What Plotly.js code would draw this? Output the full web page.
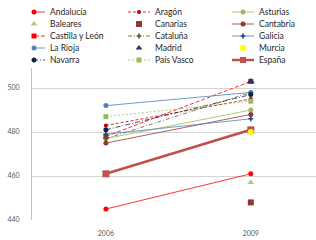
<!DOCTYPE html>
<html>
<head>
<meta charset="utf-8">
<script src="https://cdn.plot.ly/plotly-3.0.1.min.js"></script>
<style>html,body{margin:0;padding:0;background:#fff;}#chart{width:316px;height:240px;}</style>
</head>
<body>
<div id="chart"></div>
<script>
// ---- data ----
var years = ['2006', '2009'];
var regions = ['Andalucía', 'Aragón', 'Asturias', 'Baleares', 'Canarias', 'Cantabria',
  'Castilla y León', 'Cataluña', 'Galicia', 'La Rioja', 'Madrid', 'Murcia',
  'Navarra', 'País Vasco', 'España'];
var andalucia = [445, 461];
var aragon = [483, 495];
var asturias = [477, 490];
var baleares = [null, 457];
var canarias = [null, 448];
var cantabria = [475, 488];
var castillaLeon = [478, 503];
var cataluna = [477, 498];
var galicia = [479, 486];
var laRioja = [492, 498];
var madrid = [null, 503];
var murcia = [null, 480];
var navarra = [481, 497];
var paisVasco = [487, 494];
var espana = [461, 481];
var yTicks = [440, 460, 480, 500];

var seriesValues = [andalucia, aragon, asturias, baleares, canarias, cantabria,
  castillaLeon, cataluna, galicia, laRioja, madrid, murcia, navarra, paisVasco, espana];

// ---- styles ----
var styles = [
  {lc: '#FF0000', dash: 'solid', w: 0.8, sym: 'circle', ms: 5, mc: '#FF0000', line: true},
  {lc: '#C00000', dash: '3px,2px', w: 0.8, sym: 'circle', ms: 4, mc: '#C00000', line: true},
  {lc: '#9BBB59', dash: 'solid', w: 0.8, sym: 'circle', ms: 5, mc: '#9BBB59', line: true},
  {lc: '#C4BD97', dash: 'solid', w: 0.8, sym: 'triangle-up', ms: 6, mc: '#C4BD97', line: false},
  {lc: '#953735', dash: 'solid', w: 0.8, sym: 'square', ms: 6, mc: '#953735', line: false},
  {lc: '#953735', dash: 'solid', w: 0.8, sym: 'circle', ms: 5, mc: '#953735', line: true},
  {lc: '#FF0000', dash: '4px,2px', w: 0.8, sym: 'square', ms: 5, mc: '#FF0000', line: true},
  {lc: '#4F6228', dash: '4px,2px,1px,2px', w: 0.8, sym: 'cross', ms: 4, mc: '#4F6228', line: true},
  {lc: '#4F81BD', dash: 'solid', w: 0.8, sym: 'cross', ms: 4, mc: '#1F497D', line: true},
  {lc: '#4F81BD', dash: 'solid', w: 0.8, sym: 'circle', ms: 5, mc: '#4F81BD', line: true},
  {lc: '#1F3864', dash: 'solid', w: 0.8, sym: 'triangle-up', ms: 7, mc: '#1F3864', line: false},
  {lc: '#FFFF00', dash: 'solid', w: 0.8, sym: 'circle', ms: 6, mc: '#FFFF00', line: false},
  {lc: '#0F243E', dash: '5px,2px,1px,2px', w: 0.8, sym: 'circle', ms: 5, mc: '#0F243E', line: true},
  {lc: '#9BBB59', dash: '2px,2px', w: 0.8, sym: 'square', ms: 5, mc: '#9BBB59', line: true},
  {lc: '#C0504D', dash: 'solid', w: 2.5, sym: 'square', ms: 7, mc: '#C0504D', line: true}
];

// drawing order (Murcia drawn last, on top of España)
var drawOrder = [0, 1, 2, 3, 4, 5, 6, 7, 8, 9, 12, 13, 14, 10, 11];

var traces = [];
drawOrder.forEach(function (i) {
  var s = styles[i];
  traces.push({
    type: 'scatter', x: years, y: seriesValues[i], name: regions[i],
    mode: s.line ? 'lines+markers' : 'markers',
    line: {color: s.lc, width: s.w, dash: s.dash},
    marker: {symbol: s.sym, size: s.ms, color: s.mc},
    showlegend: false, xaxis: 'x', yaxis: 'y', cliponaxis: false
  });
});

// ---- custom legend (grid of 3 columns) ----
var colX = [23, 128, 232];
var annotations = [];
regions.forEach(function (name, i) {
  var s = styles[i];
  var c = i % 3, r = Math.floor(i / 3);
  var x0 = colX[c], y0 = 12 + 12 * r;
  if (s.line) {
    traces.push({
      type: 'scatter', x: [x0, x0 + 22], y: [y0, y0], mode: 'lines',
      line: {color: s.lc, width: s.w, dash: s.dash}, showlegend: false,
      xaxis: 'x2', yaxis: 'y2', cliponaxis: false
    });
  }
  traces.push({
    type: 'scatter', x: [x0 + 11], y: [y0], mode: 'markers',
    marker: {symbol: s.sym, size: Math.min(s.ms, 6), color: s.mc}, showlegend: false,
    xaxis: 'x2', yaxis: 'y2', cliponaxis: false
  });
  annotations.push({
    xref: 'x2', yref: 'y2', x: x0 + 26, y: y0, text: name, showarrow: false,
    xanchor: 'left', yanchor: 'middle', borderpad: 0,
    font: {family: 'Lato, "Open Sans", sans-serif', size: 8.5, color: '#262626'}
  });
});

var tickFont = {family: 'Lato, "Open Sans", sans-serif', size: 7, color: '#595959'};

var layout = {
  width: 316, height: 240,
  margin: {l: 32, r: 0, t: 0, b: 20, autoexpand: false},
  paper_bgcolor: '#ffffff', plot_bgcolor: '#ffffff',
  showlegend: false,
  hovermode: false,
  xaxis: {
    type: 'category', categoryorder: 'array', categoryarray: years,
    range: [-0.51, 1.45], showgrid: false, zeroline: false, showline: false,
    ticks: '', tickfont: tickFont, ticklabelstandoff: 8, anchor: 'y'
  },
  yaxis: {
    domain: [0, 152 / 220], range: [440, 509.1], tickvals: yTicks,
    showgrid: true, gridcolor: '#D4D4D4', gridwidth: 1, zeroline: false,
    showline: true, linecolor: '#BFBFBF', linewidth: 1,
    ticks: '', tickfont: tickFont, ticklabelstandoff: 10, anchor: 'x'
  },
  xaxis2: {domain: [0, 1], range: [32, 316], visible: false, anchor: 'y2', fixedrange: true},
  yaxis2: {domain: [152 / 220, 1], range: [68, 0], visible: false, anchor: 'x2', fixedrange: true},
  annotations: annotations
};

Plotly.newPlot('chart', traces, layout, {staticPlot: true, displayModeBar: false});
</script>
</body>
</html>
